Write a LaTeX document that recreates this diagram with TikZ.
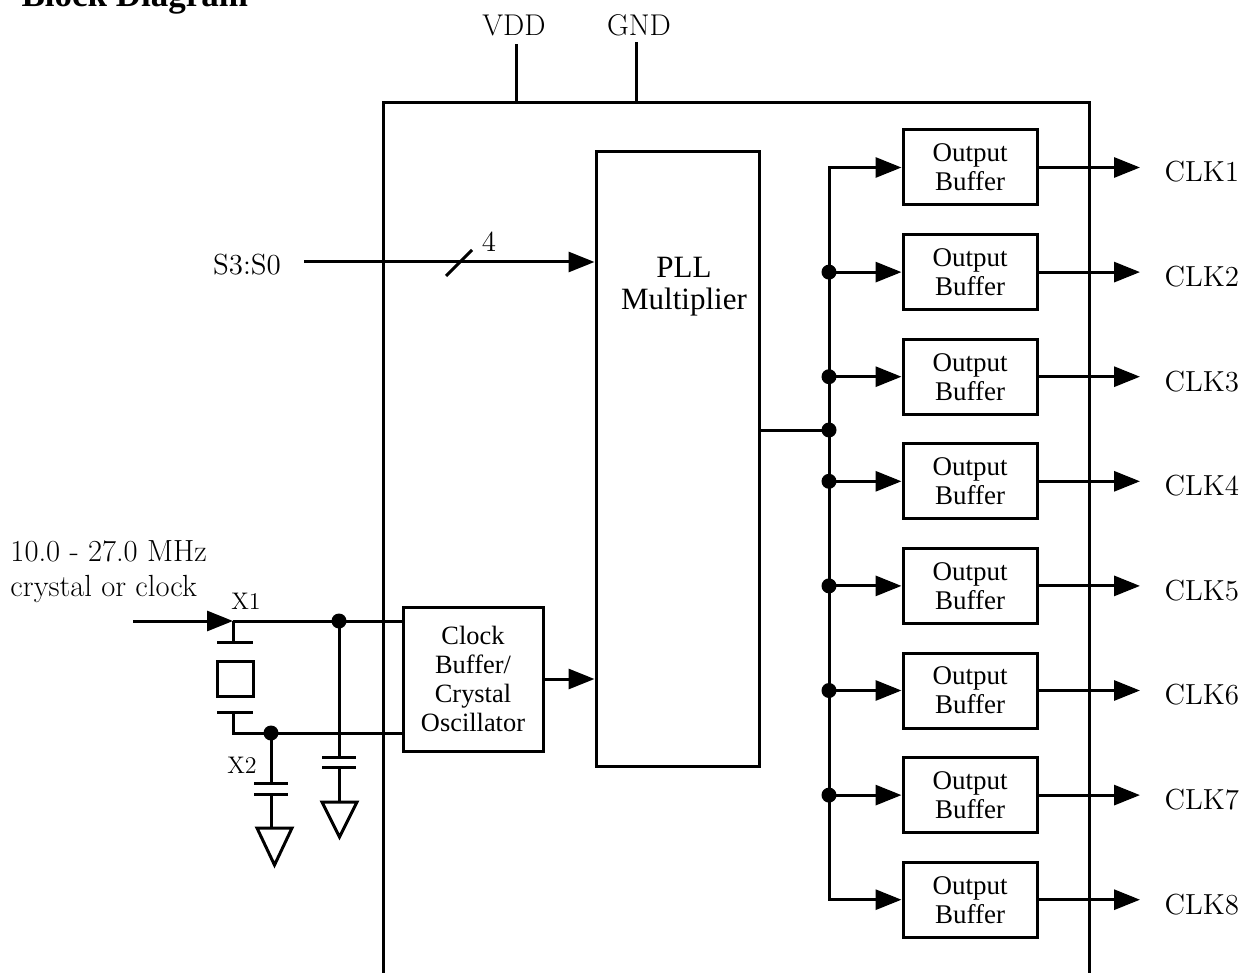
\documentclass[tikz,border=0pt]{standalone}
\usepackage{fontspec}
\newfontfamily\tms{Liberation Serif}
\usetikzlibrary{arrows.meta,positioning}

\tikzset{
  arr/.style={-{Triangle[length=13pt,width=10pt]}},
  buffer/.style={draw, minimum width=67pt, minimum height=37.5pt, inner sep=0pt, align=center, font=\tms\fontsize{13.5}{14.5}\selectfont},
  pinlabel/.style={inner sep=0pt, align=left, font=\fontsize{14.5}{17.5}\selectfont},
  dot/.style={circle, fill, inner sep=0pt, minimum size=7.5pt},
}

\begin{document}
\begin{tikzpicture}[x=0.5pt, y=-0.5pt, line width=1.5pt]
    \useasboundingbox (0,0) rectangle (1242,973);

    % Title (cut by the page edge)
    \node[anchor=base west, inner sep=0pt, font=\tms\bfseries\fontsize{17.5}{20}\selectfont] (title) at (20,7) {Block Diagram};

    % Chip outline
    \draw (383,995) -- (383,103) coordinate (chiptl) -- (1089,103) -- (1089,995);

    % Supply pins
    \node[pinlabel, font=\fontsize{15}{17}\selectfont\addfontfeature{LetterSpace=14}] (vdd) at (514,25) {VDD};
    \node[pinlabel, font=\fontsize{15}{17}\selectfont\addfontfeature{LetterSpace=12}] (gnd) at (639,25) {GND};
    \draw ([xshift=1pt,yshift=-4.5pt]vdd.base) -- ([xshift=1pt]vdd.base |- chiptl);
    \draw ([xshift=-1.5pt,yshift=-3.5pt]gnd.base) -- ([xshift=-1.5pt]gnd.base |- chiptl);

    % PLL block
    \node[draw, minimum width=81.5pt, minimum height=307pt, inner sep=0pt] (pll) at (677.5,459) {};
    \node[align=center, inner sep=0pt, font=\tms\fontsize{15.5}{16}\selectfont] (plltext) at (684,287) {PLL\\Multiplier};

    % Select inputs
    \node[pinlabel] (sel) at (247,265) {S3:S0};
    \coordinate (selin) at (304,262);
    \draw[arr] (selin) -- (selin -| pll.west);
    \draw (446,276) -- (472,250);
    \node[pinlabel] (busw) at (489,242) {4};

    % Oscillator block
    \node[buffer, minimum width=70pt, minimum height=72pt, font=\tms\fontsize{13.2}{14.5}\selectfont] (osc) at (473,679) {Clock\\Buffer/\\Crystal\\Oscillator};
    \draw[arr] (osc.east) -- (osc.east -| pll.west);

    % Crystal and load caps
    \node[pinlabel, anchor=west, font=\fontsize{15.3}{17.5}\selectfont] (freq) at (9,572) {10.0 - 27.0 MHz\\crystal or clock};
    \coordinate (xin) at (133,621);
    \coordinate (x1) at (233,621);
    \coordinate (x2) at (233,733);
    \draw[arr] (xin) -- (x1);
    \node[pinlabel, font=\fontsize{12}{13}\selectfont] (x1lbl) at (246,601) {X1};
    \node[pinlabel, font=\fontsize{12}{13}\selectfont] (x2lbl) at (242,765) {X2};
    \draw (x1) -- (x1 -| osc.west);
    \draw (x1) -- (233,642);
    \draw (217,642) -- (253,642);
    \draw (217,661) rectangle (253,696);
    \draw (217,712) -- (253,712);
    \draw (233,712) -- (x2) -- (x2 -| osc.west);

    \node[dot] (n1) at (339,621) {};
    \draw (n1.center) -- (339,757);
    \draw (322,757) -- (356,757);
    \draw (322,767) -- (356,767);
    \draw (339,767) -- (339,802);
    \draw (322,802) -- (357,802) -- (339.5,837) -- cycle;

    \node[dot] (n2) at (271,733) {};
    \draw (n2.center) -- (271,783);
    \draw (254,783) -- (288,783);
    \draw (254,794) -- (288,794);
    \draw (271,794) -- (271,828);
    \draw (257,828) -- (292,828) -- (274.5,865) -- cycle;

    % Output buffers
    \foreach \i in {1,...,8}{
        \node[buffer] (buf\i) at (970, {167.5+(\i-1)*104.6}) {Output\\Buffer};
        \node[pinlabel, anchor=west] (clk\i) at (1163, {172+(\i-1)*104.6}) {CLK\i};
        \draw[arr] (buf\i.east) -- ([xshift=-11.5pt]clk\i.west |- buf\i.east);
    }

    % Clock distribution bus
    \coordinate (bus) at (829,430);
    \draw (pll.east |- bus) -- (bus);
    \node[dot] (busdot) at (bus) {};
    \draw[arr] (bus |- buf4.west) -- (bus |- buf1.west) -- (buf1.west);
    \draw[arr] (bus |- buf4.west) -- (bus |- buf8.west) -- (buf8.west);
    \foreach \i in {2,...,7}{
        \node[dot] (tap\i) at (bus |- buf\i.west) {};
        \draw[arr] (tap\i.center) -- (buf\i.west);
    }
\end{tikzpicture}
\end{document}
